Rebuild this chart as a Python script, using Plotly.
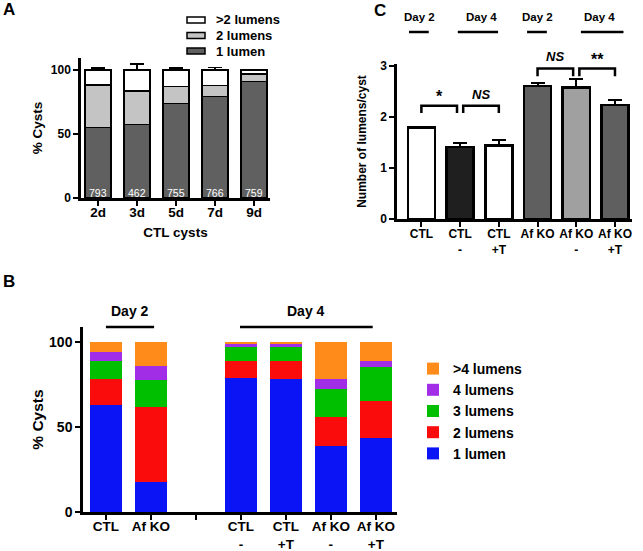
import plotly.graph_objects as go

# ---------------- data ----------------
# Panel A: CTL cysts over time (stacked %)
a_days = ['2d', '3d', '5d', '7d', '9d']
a_one = [55.0, 57.5, 74.0, 79.5, 91.0]
a_two = [33.5, 26.0, 13.0, 8.5, 6.0]
a_more = [11.5, 16.5, 13.0, 12.0, 3.0]
a_one_err = [4.0, 3.3, 1.2, 4.4, 0.7]
a_two_err = [2.8, 4.4, 1.3, 2.1, 0.4]
a_more_err = [1.5, 4.7, 1.5, 2.0, 0.5]
a_counts = ['793', '462', '755', '766', '759']
a_legend = ['>2 lumens', '2 lumens', '1 lumen']

# Panel B: lumen distribution (stacked %)
b_pos = [0, 1, 3, 4, 5, 6]
b_ticks = ['CTL', 'Af KO', '', 'CTL<br>-', 'CTL<br>+T', 'Af KO<br>-', 'Af KO<br>+T']
b_one = [62.7, 17.5, 78.8, 78.0, 39.0, 43.5]
b_two = [15.5, 44.1, 10.2, 10.6, 16.9, 21.5]
b_three = [10.4, 15.9, 7.9, 8.9, 16.6, 20.0]
b_four = [5.7, 8.4, 2.1, 1.1, 5.7, 3.6]
b_more = [5.7, 14.1, 1.0, 1.4, 21.8, 11.4]

# Panel C: number of lumens per cyst
c_labels = ['CTL', 'CTL<br>-', 'CTL<br>+T', 'Af KO', 'Af KO<br>-', 'Af KO<br>+T']
c_pos = [0, 1, 2, 3, 4, 5]
c_mean = [1.79, 1.41, 1.44, 2.61, 2.58, 2.24]
c_err = [0.0, 0.09, 0.10, 0.06, 0.17, 0.09]
c_colors = ['white', '#1f1f1f', 'white', '#5f5f5f', '#a0a0a0', '#5f5f5f']

W, H = 643, 551
FONT = 'Liberation Sans'


def px(x):
    return x / W


def py(y):
    return 1 - y / H


def axis(**kw):
    base = dict(showline=True, linecolor='black', linewidth=2.5, ticks='outside',
                ticklen=5, tickwidth=2, tickcolor='black', showgrid=False,
                zeroline=False, mirror=False, automargin=False)
    base.update(kw)
    return base


def bold(size, family=FONT, color='black'):
    return dict(family=family, size=size, color=color, weight='bold')


a_colors = ['white', '#c4c4c4', '#606060']

fig = go.Figure()

# ---- Panel A ----
for name, vals, e, col in [('1 lumen', a_one, a_one_err, a_colors[2]),
                           ('2 lumens', a_two, a_two_err, a_colors[1]),
                           ('>2 lumens', a_more, a_more_err, a_colors[0])]:
    fig.add_trace(go.Bar(
        x=a_days, y=vals, name=name, width=0.67, showlegend=False,
        marker=dict(color=col, line=dict(color='black', width=1.5)),
        error_y=dict(type='data', symmetric=False, array=e, arrayminus=[0] * len(e),
                     color='black', thickness=1.5, width=7),
        xaxis='x', yaxis='y',
    ))

# ---- Panel B ----
for name, vals, col in [('1 lumen', b_one, '#0a14f5'),
                        ('2 lumens', b_two, '#fb0c0c'),
                        ('3 lumens', b_three, '#00bf00'),
                        ('4 lumens', b_four, '#a12ee6'),
                        ('>4 lumens', b_more, '#ff8c1a')]:
    fig.add_trace(go.Bar(
        x=b_pos, y=vals, name=name, width=0.71,
        marker=dict(color=col, line=dict(width=0)),
        xaxis='x2', yaxis='y2', legend='legend',
    ))

# ---- Panel C ----
fig.add_trace(go.Bar(
    x=c_pos, y=c_mean, width=0.7, showlegend=False,
    marker=dict(color=c_colors, line=dict(color='black', width=2.5)),
    error_y=dict(type='data', symmetric=False, array=c_err,
                 arrayminus=[0] * len(c_err), color='black', thickness=2, width=7),
    xaxis='x3', yaxis='y3',
))

c_dom = [py(219), py(64)]
c_top = 3.04

fig.update_layout(
    template='none',
    width=W, height=H, margin=dict(l=0, r=0, t=0, b=0),
    plot_bgcolor='white', paper_bgcolor='white',
    barmode='stack',
    font=dict(family=FONT, color='black'),
    xaxis=axis(domain=[px(81), px(270)], anchor='y', range=[-0.44, 4.41],
               tickfont=bold(13.5), ticklabelstandoff=-5,
               title=dict(text='CTL cysts', font=bold(13.5), standoff=9)),
    yaxis=axis(domain=[py(198), py(58)], anchor='x', range=[0, 109.4],
               tickvals=[0, 50, 100], tickfont=bold(12),
               title=dict(text='% Cysts', font=bold(13.5), standoff=6)),
    xaxis2=axis(domain=[px(83), px(397)], anchor='y2', range=[-0.51, 6.47],
                tickvals=list(range(7)), ticktext=b_ticks, tickfont=bold(13.5),
                ticklabelstandoff=-5),
    yaxis2=axis(domain=[py(512), py(327)], anchor='x2', range=[0, 108.8],
                tickvals=[0, 50, 100], tickfont=bold(14),
                title=dict(text='% Cysts', font=bold(15.5), standoff=2)),
    xaxis3=axis(domain=[px(397), px(632)], anchor='y3', range=[-0.63, 5.44],
                tickvals=c_pos, ticktext=c_labels, tickfont=bold(12),
                ticklabelstandoff=-3),
    yaxis3=axis(domain=c_dom, anchor='x3', range=[0, c_top],
                tickvals=[0, 1, 2, 3], tickfont=bold(12),
                title=dict(text='Number of lumens/cyst', font=bold(12), standoff=11)),
    legend=dict(x=px(413), y=py(353), xanchor='left', yanchor='top',
                traceorder='reversed', font=bold(14),
                bgcolor='rgba(0,0,0,0)', tracegroupgap=0),
)

ann = []
shapes = []


def text(t, x, y, size, xref='paper', yref='paper', **kw):
    ann.append(dict(x=x, y=y, xref=xref, yref=yref, text=t, showarrow=False,
                    xanchor=kw.pop('xanchor', 'center'), yanchor='middle',
                    font=kw.pop('font', bold(size))))


# Panel A legend (flat boxes, tighter than the plotly legend allows)
for i, (lab, col) in enumerate(zip(a_legend, a_colors)):
    yc = 20 + 15.5 * i
    shapes.append(dict(type='rect', xref='paper', yref='paper',
                       x0=px(187), x1=px(205), y0=py(yc - 3), y1=py(yc + 3),
                       fillcolor=col, line=dict(color='black', width=1.5)))
    text(lab, px(214), py(yc), 13, xanchor='left')

# sample sizes inside panel A bars
for d, n in zip(a_days, a_counts):
    text(n, d, 4, 10, xref='x', yref='y',
         font=dict(family=FONT, size=10.5, color='white'))

# panel letters
for t, x, y in [('A', 9, 10), ('B', 9, 281), ('C', 380, 11)]:
    text(t, px(x), py(y), 17)

# Panel B day headers
for t, xc, x0, x1 in [('Day 2', 0.53, 0, 1.07), ('Day 4', 4.44, 2.98, 5.93)]:
    text(t, xc, py(311), 14, xref='x2')
    shapes.append(dict(type='line', xref='x2', yref='paper', x0=x0, x1=x1,
                       y0=py(327), y1=py(327), line=dict(color='black', width=2.5)))

# Panel C day headers
for t, xc, x0, x1 in [('Day 2', -0.06, -0.32, 0.19), ('Day 4', 1.56, 0.94, 1.98),
                      ('Day 2', 3.01, 2.73, 3.24), ('Day 4', 4.61, 4.12, 5.22)]:
    text(t, xc, py(17), 11.5, xref='x3')
    shapes.append(dict(type='line', xref='x3', yref='paper', x0=x0, x1=x1,
                       y0=py(32), y1=py(32), line=dict(color='black', width=2.5)))


def c_paper(v):
    return c_dom[0] + v / c_top * (c_dom[1] - c_dom[0])


# Panel C significance brackets
for x0, x1, top, leg, label, ty, italic in [
        (0.0, 0.92, 2.22, 2.08, '*', 2.40, False),
        (1.08, 2.0, 2.22, 2.08, 'NS', 2.45, True),
        (3.0, 3.92, 2.95, 2.80, 'NS', 3.18, True),
        (4.08, 5.0, 2.95, 2.80, '**', 3.13, False)]:
    shapes.append(dict(type='path', xref='x3', yref='y3',
                       path=f'M {x0},{leg} L {x0},{top} L {x1},{top} L {x1},{leg}',
                       line=dict(color='black', width=2.5)))
    text(f'<i>{label}</i>' if italic else label, (x0 + x1) / 2, c_paper(ty),
         13 if italic else 16, xref='x3')

fig.update_layout(annotations=ann, shapes=shapes)

# the default page body has an 8px margin; drop it so the figure sits at the window origin
fig.write_html('out.html', config={'displayModeBar': False},
               post_script="document.body.style.margin = '0';")
